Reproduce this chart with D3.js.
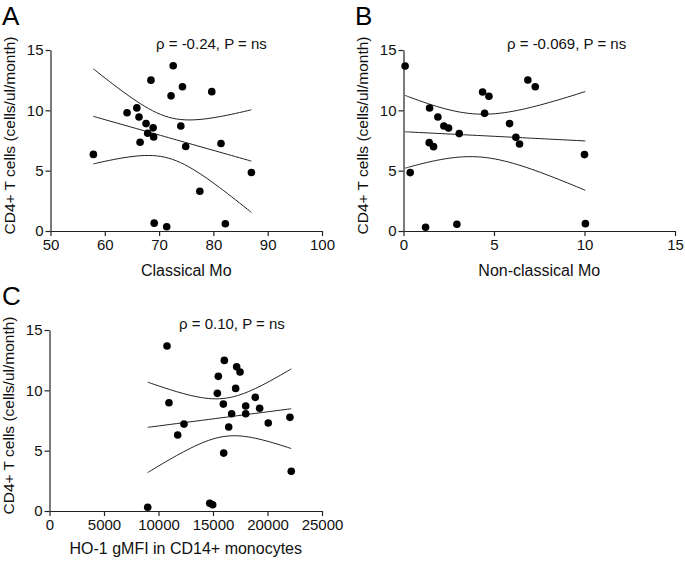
<!DOCTYPE html>
<html>
<head>
<meta charset="utf-8">
<script src="https://cdn.jsdelivr.net/npm/d3@7"></script>
<style>
  body { margin: 0; background: #fff; }
  svg { display: block; font-family: "Liberation Sans", Arial, Helvetica, sans-serif; }
  .tick text { font-size: 15px; fill: #111; }
  .domain, .tick line { stroke: #222; stroke-width: 1.2; }
</style>
</head>
<body>
<div id="chart"></div>
<script>
// --- Data ---
// Panel A: classical monocytes (%) vs CD4+ T cell slope
const classicalMo = [57.9, 64.1, 65.9, 66.3, 67.6, 68.9, 67.9, 69.0, 66.5, 68.5, 72.6,
                     72.2, 74.3, 74.0, 74.9, 79.7, 81.4, 87.0, 77.5, 69.1, 71.4, 82.2];
const cd4A        = [6.35, 9.8, 10.2, 9.45, 8.9, 8.55, 8.1, 7.8, 7.35, 12.5, 13.7,
                     11.2, 11.95, 8.7, 7.0, 11.55, 7.25, 4.85, 3.3, 0.65, 0.35, 0.6];

// Panel B: non-classical monocytes (%)
const nonClassicalMo = [0.09, 0.37, 1.22, 1.44, 1.42, 1.66, 1.9, 2.23, 2.49, 3.08, 2.95,
                        4.37, 4.72, 4.48, 5.86, 6.21, 6.41, 6.87, 7.28, 10.0, 10.05];
const cd4B           = [13.67, 4.84, 0.31, 10.19, 7.32, 6.99, 9.45, 8.7, 8.53, 8.07, 0.56,
                        11.52, 11.16, 9.75, 8.9, 7.76, 7.21, 12.51, 11.96, 6.33, 0.61];

// Panel C: HO-1 gMFI in CD14+ monocytes
const ho1Gmfi = [10780, 10960, 9010, 11760, 12340, 15490, 16040, 15400, 15950, 15980, 14700, 14970,
                 16440, 16710, 17080, 17170, 17480, 18000, 18000, 18880, 19280, 20070, 22060, 22180];
const cd4C    = [13.67, 8.97, 0.31, 6.3, 7.2, 11.16, 12.48, 9.75, 8.86, 4.8, 0.64, 0.52,
                 6.96, 8.06, 10.16, 11.96, 11.52, 8.7, 8.06, 9.42, 8.51, 7.29, 7.76, 3.29];

// tick values
const yTicks  = [0, 5, 10, 15];
const xTicksA = [50, 60, 70, 80, 90, 100];
const xTicksB = [0, 5, 10, 15];
const xTicksC = [0, 5000, 10000, 15000, 20000, 25000];

const W = 685, H = 562;

const svg = d3.select("#chart")
  .append("svg")
  .attr("width", W)
  .attr("height", H);

// t quantile (0.975) via Cornish-Fisher expansion
function tCrit(df) {
  const z = 1.959964;
  return z + (z ** 3 + z) / (4 * df)
    + (5 * z ** 5 + 16 * z ** 3 + 3 * z) / (96 * df ** 2)
    + (3 * z ** 7 + 19 * z ** 5 + 17 * z ** 3 - 15 * z) / (384 * df ** 3);
}

// linear regression + 95% confidence band of the fit
function regression(xs, ys) {
  const n = xs.length;
  const mx = d3.mean(xs), my = d3.mean(ys);
  let sxx = 0, sxy = 0;
  for (let i = 0; i < n; i++) {
    sxx += (xs[i] - mx) ** 2;
    sxy += (xs[i] - mx) * (ys[i] - my);
  }
  const b = sxy / sxx, a = my - b * mx;
  let sse = 0;
  for (let i = 0; i < n; i++) sse += (ys[i] - a - b * xs[i]) ** 2;
  const s = Math.sqrt(sse / (n - 2));
  const t = tCrit(n - 2);
  const [x0, x1] = d3.extent(xs);
  return d3.range(0, 41).map(k => {
    const x = x0 + (x1 - x0) * k / 40;
    const yh = a + b * x;
    const se = s * Math.sqrt(1 / n + (x - mx) ** 2 / sxx);
    return { x, y: yh, lo: yh - t * se, hi: yh + t * se };
  });
}

function drawPanel(p) {
  const x = d3.scaleLinear().domain(p.xDomain).range(p.xRange);
  const y = d3.scaleLinear().domain([0, 15]).range(p.yRange);
  const g = svg.append("g");

  // axes
  g.append("g")
    .attr("transform", `translate(0,${p.yRange[0]})`)
    .call(d3.axisBottom(x).tickValues(p.xTicks).tickSizeInner(5).tickSizeOuter(0).tickPadding(3)
      .tickFormat(d3.format("d")));
  g.append("g")
    .attr("transform", `translate(${p.xRange[0]},0)`)
    .call(d3.axisLeft(y).tickValues(yTicks).tickSizeInner(5).tickSizeOuter(0).tickPadding(2));

  g.selectAll(".tick text").attr("font-family", null).attr("font-size", null);

  // regression + confidence band
  const fit = regression(p.xs, p.ys);
  const line = key => d3.line().x(d => x(d.x)).y(d => y(d[key])).curve(d3.curveBasis);
  ["y", "lo", "hi"].forEach(k => {
    g.append("path")
      .datum(fit)
      .attr("d", line(k))
      .attr("fill", "none")
      .attr("stroke", "#222")
      .attr("stroke-width", 1);
  });

  // points
  g.selectAll("circle.pt")
    .data(p.xs.map((v, i) => [v, p.ys[i]]))
    .enter()
    .append("circle")
    .attr("class", "pt")
    .attr("cx", d => x(d[0]))
    .attr("cy", d => y(d[1]))
    .attr("r", 3.8)
    .attr("fill", "#000");

  // labels
  const xMid = (p.xRange[0] + p.xRange[1]) / 2;
  const yMid = (p.yRange[0] + p.yRange[1]) / 2;
  g.append("text")
    .attr("x", xMid)
    .attr("y", p.yRange[0] + p.titleGap)
    .attr("text-anchor", "middle")
    .attr("font-size", 16)
    .attr("fill", "#111")
    .text(p.xTitle);
  g.append("text")
    .attr("transform", `translate(${p.xRange[0] - 36},${yMid - 5}) rotate(-90)`)
    .attr("text-anchor", "middle")
    .attr("font-size", 15.5)
    .attr("fill", "#111")
    .text("CD4+ T cells (cells/ul/month)");
  g.append("text")
    .attr("x", p.statX)
    .attr("y", p.yRange[1] - 1)
    .attr("font-size", 15)
    .attr("fill", "#111")
    .text(p.stat);
  g.append("text")
    .attr("x", p.letterX)
    .attr("y", p.yRange[1] - 25)
    .attr("font-size", 26)
    .attr("fill", "#000")
    .text(p.letter);
}

drawPanel({
  letter: "A", letterX: 2, xs: classicalMo, ys: cd4A, titleGap: 45,
  xDomain: [50, 100], xRange: [50.5, 322], yRange: [231, 50], xTicks: xTicksA,
  xTitle: "Classical Mo", stat: "\u03c1 = -0.24, P = ns", statX: 156
});
drawPanel({
  letter: "B", letterX: 355, xs: nonClassicalMo, ys: cd4B, titleGap: 45,
  xDomain: [0, 15], xRange: [403.5, 675], yRange: [231, 50], xTicks: xTicksB,
  xTitle: "Non-classical Mo", stat: "\u03c1 = -0.069, P = ns", statX: 507
});
drawPanel({
  letter: "C", letterX: 2, xs: ho1Gmfi, ys: cd4C, titleGap: 43,
  xDomain: [0, 25000], xRange: [49.5, 322], yRange: [511, 330], xTicks: xTicksC,
  xTitle: "HO-1 gMFI in CD14+ monocytes", stat: "\u03c1 = 0.10, P = ns", statX: 179
});
</script>
</body>
</html>
